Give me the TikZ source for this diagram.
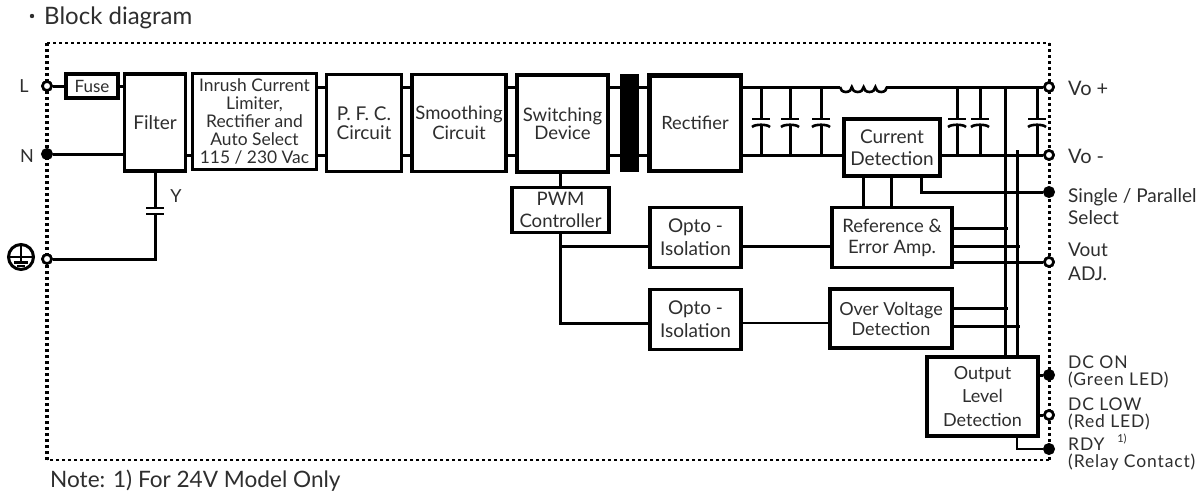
\documentclass[tikz,border=0pt]{standalone}
\usepackage{fontspec}
\setmainfont{Lato}
\newfontfamily\spaced[LetterSpace=5]{Lato}
\definecolor{ink}{HTML}{2E2E2E}
\newcommand{\fsz}[2]{\fontsize{#1}{#2}\selectfont}
\tikzset{
  x=1pt,y=-1pt,
  box/.style={draw=black,line width=3.4pt,fill=white,inner sep=0pt,outer sep=0pt,align=center,text=ink,font=\fsz{19}{19}},
  wire/.style={draw=black,line width=3pt},
  thin wire/.style={draw=black,line width=2.4pt},
  opent/.style={circle,draw=black,line width=2.6pt,fill=white,minimum size=9pt,inner sep=0pt},
  fullt/.style={circle,draw=black,fill=black,line width=1pt,minimum size=11pt,inner sep=0pt},
  lab/.style={text=ink,anchor=west,inner sep=0pt,align=left,font=\fsz{19}{17}},
  tight lab/.style={lab,font=\spaced\fsz{17.5}{17.5}},
  frame/.style={draw=black,line width=3pt,dash pattern=on 3pt off 3pt},
  cap/.pic={
    \draw[line width=2.6pt] (-9,-4) -- (9,-4);
    \draw[line width=2.6pt] (-9,4) .. controls (-6,1) and (6,1) .. (9,4);
  },
  capflat/.pic={
    \draw[line width=2.4pt] (-9,-3) -- (9,-3);
    \draw[line width=2.4pt] (-9,3) -- (9,3);
  }
}
\newcommand{\boxat}[7]{\node[box,minimum width=#4pt,minimum height=#5pt,#7] (#1) at (#2,#3) {#6};}
\begin{document}
\begin{tikzpicture}
\useasboundingbox (0,0) rectangle (1204,493);
\fill[white] (0,0) rectangle (1204,493);
% frame
\coordinate (ftl) at (47,43);
\coordinate (ftr) at (1049,43);
\coordinate (fbr) at (1049,460);
\coordinate (fbl) at (47,460);
\draw[frame,line width=2pt] (ftl) -- (ftr);
\draw[frame] (ftr) -- (fbr);
\draw[frame,line width=2.6pt] (fbr) -- (fbl);
\draw[frame,line width=3.6pt] (fbl) -- (ftl);
% rails
\coordinate (T) at (0,87);
\coordinate (B) at (0,155);
% boxes
\boxat{fuse}{92}{86}{52}{24}{Fuse}{font=\fsz{17}{18}}
\boxat{filter}{155}{122.5}{61}{97}{Filter}{}
\boxat{inrush}{254.5}{121.5}{124}{96}{Inrush Current\\Limiter,\\Rectifier and\\Auto Select\\115 / 230 Vac}{font=\fsz{17.4}{17.8}}
\boxat{pfc}{364}{123}{75}{97}{P. F. C.\\Circuit}{}
\boxat{smooth}{459}{123}{94}{97}{Smoothing\\Circuit}{font=\fsz{18.5}{20}}
\boxat{switch}{562.5}{123.5}{91}{97}{Switching\\Device}{font=\fsz{18.6}{18}}
\node[draw=black,fill=black,minimum width=18pt,minimum height=97pt,inner sep=0pt,outer sep=0pt] (xfmr) at (629,122.5) {};
\boxat{rect}{695}{123}{92}{96}{Rectifier}{font=\fsz{18.3}{19}}
\draw[line width=5pt] (rect.north west) ++(-2,0) -- (rect.north east);
\draw[line width=5pt] (rect.north west) -- (rect.south west);
\boxat{pwm}{560.5}{210}{97}{45}{PWM\\Controller}{font=\fsz{18.6}{22}}
\boxat{optoa}{695.5}{237.5}{91}{60}{Opto -\\Isolation}{font=\fsz{19}{23}}
\boxat{optob}{695.5}{319.5}{91}{60}{Opto -\\Isolation}{font=\fsz{19}{23}}
\boxat{cur}{892}{147.5}{96}{57}{Current\\Detection}{font=\fsz{19}{22}}
\boxat{ref}{892}{237.5}{120}{60}{Reference \&\\Error Amp.}{font=\fsz{18.5}{21}}
\boxat{ovp}{891}{318.5}{122}{59}{Over Voltage\\Detection}{font=\fsz{18}{20}}
\boxat{lvl}{982.5}{396.5}{111}{79}{Output\\Level\\Detection}{font=\fsz{18}{23.5}}
% terminals
\node[opent] (L) at (47,86) {};
\node[fullt] (N) at (47,154) {};
\node[opent] (E) at (47,259) {};
\node[opent] (vp) at (1049,87) {};
\node[opent] (vm) at (1049,155) {};
\node[fullt] (sp) at (1049,192) {};
\node[opent] (va) at (1049,262) {};
\node[fullt] (dcon) at (1049,375) {};
\node[opent] (dclow) at (1049,415) {};
\node[fullt] (rdy) at (1049,449) {};
% input wiring
\draw[wire] (L) -- (fuse);
\draw[wire] (fuse.east) -- (filter.west |- fuse.east);
\draw[wire] (N) -- (filter.west |- N);
\draw[wire] (filter.east |- B) -- (inrush.west |- B);
\foreach \r in {T,B}{
  \draw[wire] (inrush.east |- \r) -- (pfc.west |- \r);
  \draw[wire] (pfc.east |- \r) -- (smooth.west |- \r);
  \draw[wire] (smooth.east |- \r) -- (switch.west |- \r);
  \draw[wire] (switch.east |- \r) -- (xfmr.west |- \r);
  \draw[wire] (xfmr.east |- \r) -- (rect.west |- \r);
}
% Y capacitor
\coordinate (ycap) at (155,211);
\draw[wire] (filter.south) -- (ycap) -- (ycap |- E) -- (E);
\fill[white] (146,208) rectangle (164,214);
\pic at (ycap) {capflat};
\node[text=ink,font=\fsz{18}{20},inner sep=0pt] (ylab) at (176,196) {Y};
% output rails
\coordinate (ia) at (840,87);
\coordinate (ib) at (886,87);
\draw[wire] (rect.east |- T) -- (ia);
\draw[line width=2.6pt] (ia) arc[start angle=180,end angle=0,x radius=5.9,y radius=5] arc[start angle=180,end angle=0,x radius=5.9,y radius=5] arc[start angle=180,end angle=0,x radius=5.9,y radius=5] arc[start angle=180,end angle=0,x radius=5.8,y radius=5];
\draw[wire] (ib) -- (vp);
\draw[wire] (rect.east |- B) -- (cur.west |- B);
\draw[wire] (cur.east |- B) -- (vm);
% capacitors
\foreach \n/\x in {a/761,b/790,c/821,d/957,e/980,f/1037}{
  \coordinate (cap\n) at (\x,123);
  \draw[wire] (cap\n |- T) -- (cap\n |- 0,157);
  \fill[white] (\x-8,120) rectangle (\x+8,126);
  \pic at (cap\n) {cap};
}
% buses
\coordinate (busa) at (1005,0);
\coordinate (busb) at (1017,0);
\draw[wire] (busa |- T) -- (busa |- lvl.north);
\draw[wire] (busb |- 0,150) -- (busb |- lvl.north);
% controller
\draw[wire] (switch.south -| pwm.north) -- (pwm.north);
\coordinate (ya) at (0,246);
\coordinate (yb) at (0,323);
\draw[wire] (pwm.south) -- (pwm.south |- yb) -- (optob.west |- yb);
\draw[wire] (pwm.south |- ya) -- (optoa.west |- ya);
\draw[wire] (optoa.east |- ya) -- (ref.west |- ya);
\draw[thin wire] (optob.east |- yb) -- (ovp.west |- yb);
% current detection
\coordinate (ca) at (863,0);
\coordinate (cb) at (891,0);
\coordinate (cc) at (921,0);
\draw[wire] (ca |- cur.south) -- (ca |- ref.north);
\draw[wire] (cb |- cur.south) -- (cb |- ref.north);
\draw[wire] (cc |- cur.south) -- (cc |- sp) -- (sp);
% reference & OVP outputs
\draw[wire] (ref.east |- 0,228) -- (1008,228);
\draw[wire] (ref.east |- 0,246) -- (1020,246);
\draw[wire] (ref.east |- va) -- (va);
\draw[wire] (ovp.east |- 0,308) -- (1008,308);
\draw[wire] (ovp.east |- 0,326) -- (1020,326);
% level detection
\draw[wire] (lvl.east |- dcon) -- (dcon);
\draw[wire] (lvl.east |- dclow) -- (dclow);
\draw[thin wire] (busb |- lvl.south) -- (busb |- rdy) -- (rdy);
% re-draw terminals above wires
\foreach \t/\s in {L/opent,E/opent,vp/opent,vm/opent,va/opent,dclow/opent}{
  \node[\s] at (\t) {};
}
% earth symbol
\coordinate (gnd) at (21,257);
\draw[line width=3pt] (gnd) circle[radius=12.5];
\draw[line width=2.6pt] (21,246) -- (21,262);
\draw[line width=2.6pt] (10,257) -- (32,257);
\draw[line width=3pt] (14,262) -- (28,262);
\draw[line width=2.6pt] (17,266) -- (25,266);
% labels
\node[text=ink,anchor=base west,inner sep=0pt,font=\fsz{24}{25}] (title) at (44,24) {Block diagram};
\fill[ink] (32,16) circle[radius=2.2];
\node[text=ink,inner sep=0pt,font=\fsz{18}{20}] (lL) at (24,86) {L};
\node[text=ink,inner sep=0pt,font=\fsz{18}{20}] (lN) at (27,156) {N};
\node[lab,font=\fsz{20}{20}] (lvp) at (1068,88) {Vo +};
\node[lab,font=\fsz{20}{20}] (lvm) at (1068,156) {Vo -};
\node[lab,font=\fsz{19}{22}] (lsp) at (1068,207) {Single / Parallel\\Select};
\node[lab,font=\fsz{19}{24}] (lva) at (1068,262) {Vout\\ADJ.};
\node[tight lab] (lon) at (1068,372) {DC ON\\(Green LED)};
\node[tight lab] (llow) at (1068,414) {DC LOW\\(Red LED)};
\node[tight lab] (lrdy) at (1068,454) {RDY\\(Relay Contact)};
\node[text=ink,inner sep=0pt,font=\fsz{11}{12}] (lsup) at (1122,439) {1)};
\node[text=ink,anchor=base west,inner sep=0pt,font=\fsz{22.6}{24}] (note) at (50,487) {Note: 1) For 24V Model Only};
\end{tikzpicture}
\end{document}
